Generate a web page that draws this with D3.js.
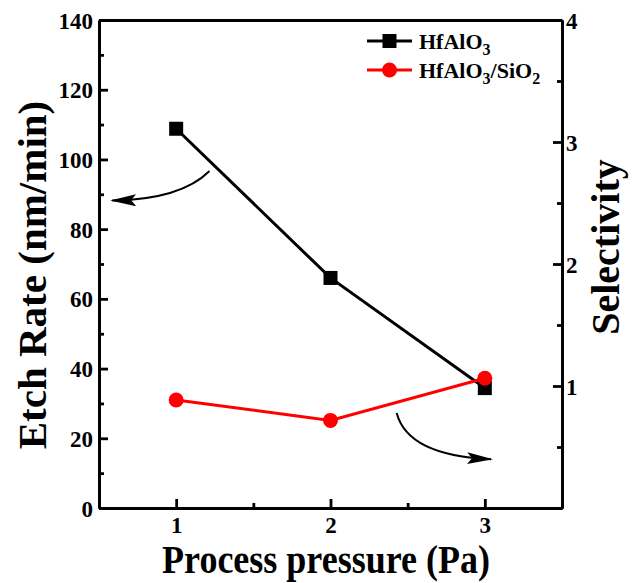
<!DOCTYPE html>
<html><head><meta charset="utf-8">
<script src="https://cdn.jsdelivr.net/npm/d3@7"></script>
<style>
body{margin:0;background:#fff;}
text{font-family:"Liberation Serif","Times New Roman",serif;font-weight:bold;}
</style></head>
<body><svg id="c" width="634" height="583"></svg>
<script>
const pressures = [1, 2, 3];
const etchRate = [108.8, 66, 34.4];
const selectivity = [0.885, 0.718, 1.063];
const leftTicks = [0, 20, 40, 60, 80, 100, 120, 140];
const leftMinor = [10, 30, 50, 70, 90, 110, 130];
const rightTicks = [1, 2, 3, 4];
const rightMinor = [0.5, 1.5, 2.5, 3.5];
const xTicks = [1, 2, 3];
const xMinor = [1.5, 2.5];

const W = 634, H = 583;
const m = {left: 99, right: 72, top: 20, bottom: 75};
const svg = d3.select("#c");
const x = d3.scaleLinear().domain([0.5, 3.5]).range([m.left, W - m.right]);
const yL = d3.scaleLinear().domain([0, 140]).range([H - m.bottom, m.top]);
const yR = d3.scaleLinear().domain([0, 4]).range([H - m.bottom, m.top]);
const fmt = d3.format("d");

function sty(g){
  g.selectAll("path.domain").style("stroke","#000").style("stroke-width","2.8px");
  g.selectAll(".tick line").style("stroke","#000").style("stroke-width","2.8px");
  g.selectAll("text").style("font-family","'Liberation Serif','Times New Roman',serif")
    .style("font-weight","bold").style("font-size","23px").style("fill","#000");
}

// left
svg.append("g").attr("transform",`translate(${m.left},0)`)
  .call(d3.axisLeft(yL).tickValues(leftTicks).tickSizeInner(-9).tickSizeOuter(0).tickPadding(6).tickFormat(fmt))
  .call(sty).call(g=>g.selectAll("text").attr("dy","0.35em"));
svg.append("g").attr("transform",`translate(${m.left},0)`)
  .call(d3.axisLeft(yL).tickValues(leftMinor).tickSizeInner(-5).tickSizeOuter(0).tickFormat("")).call(sty);
// right
svg.append("g").attr("transform",`translate(${W-m.right},0)`)
  .call(d3.axisRight(yR).tickValues(rightTicks).tickSizeInner(-9).tickSizeOuter(0).tickFormat(fmt))
  .call(sty).call(g=>g.selectAll("text").attr("x",4).attr("dy","0.35em"));
svg.append("g").attr("transform",`translate(${W-m.right},0)`)
  .call(d3.axisRight(yR).tickValues(rightMinor).tickSizeInner(-5).tickSizeOuter(0).tickFormat("")).call(sty);
// bottom
svg.append("g").attr("transform",`translate(0,${H-m.bottom})`)
  .call(d3.axisBottom(x).tickValues(xTicks).tickSizeInner(-9).tickSizeOuter(0).tickFormat(fmt))
  .call(sty).call(g=>g.selectAll("text").attr("y",9).attr("dy","0.71em"));
svg.append("g").attr("transform",`translate(0,${H-m.bottom})`)
  .call(d3.axisBottom(x).tickValues(xMinor).tickSizeInner(-5).tickSizeOuter(0).tickFormat("")).call(sty);
// top
svg.append("g").attr("transform",`translate(0,${m.top})`)
  .call(d3.axisTop(x).tickValues(xTicks.concat(xMinor)).tickSizeInner(-2).tickSizeOuter(0).tickFormat("")).call(sty);

// series
const lineL = d3.line().x((d,i)=>x(pressures[i])).y(d=>yL(d));
const lineR = d3.line().x((d,i)=>x(pressures[i])).y(d=>yR(d));
svg.append("path").attr("d",lineL(etchRate)).attr("fill","none").attr("stroke","#000").attr("stroke-width",3);
svg.selectAll(".sq").data(etchRate).join("rect")
  .attr("x",(d,i)=>x(pressures[i])-7).attr("y",d=>yL(d)-7).attr("width",14).attr("height",14).attr("fill","#000");
svg.append("path").attr("d",lineR(selectivity)).attr("fill","none").attr("stroke","#ff0000").attr("stroke-width",3);
svg.selectAll(".ci").data(selectivity).join("circle")
  .attr("cx",(d,i)=>x(pressures[i])).attr("cy",d=>yR(d)).attr("r",7.5).attr("fill","#ff0000");

// arrows
const defs = svg.append("defs");
defs.append("marker").attr("id","ah").attr("viewBox","0 0 26 12").attr("refX",24).attr("refY",6)
  .attr("markerWidth",26).attr("markerHeight",12).attr("markerUnits","userSpaceOnUse").attr("orient","auto")
  .append("path").attr("d","M0,0 L26,6 L0,12 L5,6 Z").attr("fill","#000");
const arrows = [
  {s:[1.216,96.7], c:[1.03,88.5], e:[0.585,88.2], scale:yL},
  {s:[2.429,0.779], c:[2.50,0.43], e:[3.04,0.40], scale:yR}
];
arrows.forEach(a=>{
  const p = d3.path();
  p.moveTo(x(a.s[0]), a.scale(a.s[1]));
  p.quadraticCurveTo(x(a.c[0]), a.scale(a.c[1]), x(a.e[0]), a.scale(a.e[1]));
  svg.append("path").attr("d",p.toString()).attr("fill","none").attr("stroke","#000").attr("stroke-width",2).attr("marker-end","url(#ah)");
});

// legend
const leg = svg.append("g").attr("transform","translate(367,41)");
leg.append("line").attr("x1",0).attr("x2",45).attr("y1",0).attr("y2",0).attr("stroke","#000").attr("stroke-width",3);
leg.append("rect").attr("x",15.5).attr("y",-7).attr("width",14).attr("height",14).attr("fill","#000");
const t1 = leg.append("text").attr("x",52).attr("y",8).attr("font-size",22);
t1.append("tspan").text("HfAlO");
t1.append("tspan").attr("font-size",16).attr("dy",6).text("3");
leg.append("line").attr("x1",0).attr("x2",45).attr("y1",29).attr("y2",29).attr("stroke","#ff0000").attr("stroke-width",3);
leg.append("circle").attr("cx",22.5).attr("cy",29).attr("r",7.5).attr("fill","#ff0000");
const t2 = leg.append("text").attr("x",52).attr("y",37).attr("font-size",22);
t2.append("tspan").text("HfAlO");
t2.append("tspan").attr("font-size",16).attr("dy",6).text("3");
t2.append("tspan").attr("dy",-6).text("/SiO");
t2.append("tspan").attr("font-size",16).attr("dy",6).text("2");

// titles
svg.append("text").attr("transform","translate(326,573) scale(1,1.1)").attr("text-anchor","middle")
  .attr("font-size",36).text("Process pressure (Pa)");
svg.append("text").attr("transform","translate(46,275) rotate(-90)").attr("text-anchor","middle")
  .attr("font-size",41).text("Etch Rate (nm/min)");
svg.append("text").attr("transform","translate(619,247) rotate(-90)").attr("text-anchor","middle")
  .attr("font-size",40).text("Selectivity");
</script></body></html>
